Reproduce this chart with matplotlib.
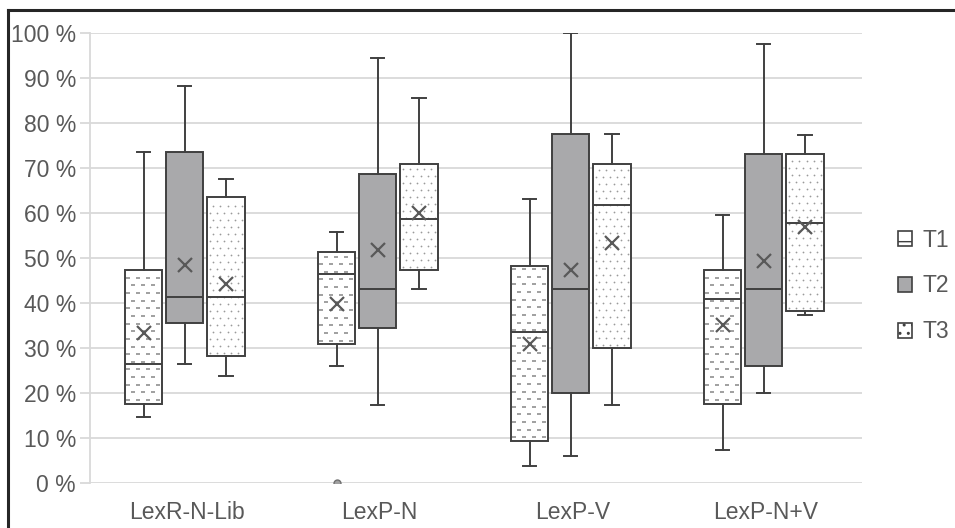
import numpy as np
import matplotlib
matplotlib.use("Agg")
import matplotlib.pyplot as plt
from matplotlib.lines import Line2D
from matplotlib.patches import Patch

categories = ["LexR-N-Lib", "LexP-N", "LexP-V", "LexP-N+V"]
series = ["T1", "T2", "T3"]

# five-number summaries + mean, one list per series (values in %)
t1_whislo = [14.7, 26.0, 3.7, 7.3]
t1_q1 = [17.6, 30.8, 9.3, 17.6]
t1_med = [26.4, 46.4, 33.4, 40.8]
t1_q3 = [47.3, 51.2, 48.2, 47.3]
t1_whishi = [73.4, 55.6, 63.0, 59.5]
t1_mean = [33.3, 39.7, 30.8, 35.0]
t1_fliers = [[], [0.0], [], []]

t2_whislo = [26.4, 17.3, 5.9, 20.0]
t2_q1 = [35.6, 34.3, 19.9, 26.0]
t2_med = [41.2, 43.0, 43.0, 43.0]
t2_q3 = [73.4, 68.6, 77.4, 73.0]
t2_whishi = [88.2, 94.3, 100.0, 97.4]
t2_mean = [48.4, 51.6, 47.3, 49.3]

t3_whislo = [23.8, 43.0, 17.3, 37.3]
t3_q1 = [28.2, 47.3, 30.0, 38.2]
t3_med = [41.2, 58.5, 61.7, 57.8]
t3_q3 = [63.4, 70.8, 70.8, 73.0]
t3_whishi = [67.6, 85.6, 77.4, 77.3]
t3_mean = [44.1, 59.9, 53.2, 56.8]

EDGE = "#404040"
GRID = "#d9d9d9"
TEXT = "#595959"
PAT = "#8c8c8c"
FILLS = ["white", "#a9a9ab", "white"]

plt.rcParams["font.family"] = ["Liberation Sans", "DejaVu Sans"]
plt.rcParams["font.size"] = 16.5


def make_stats(whislo, q1, med, q3, whishi, mean, fliers=None):
    out = []
    for i in range(len(med)):
        out.append({
            "whislo": whislo[i], "q1": q1[i], "med": med[i], "q3": q3[i],
            "whishi": whishi[i], "mean": mean[i],
            "fliers": fliers[i] if fliers else [],
        })
    return out


def pattern_fill(ax, x0, x1, y0, y1, marker, dx, dy, size, lw, color):
    mx, my = dx * 0.35, dy * 0.45
    pts = []
    ys = np.arange(y0 + my, y1 - my * 0.6, dy)
    for r, y in enumerate(ys):
        start = x0 + mx + (dx / 2 if r % 2 else 0)
        for x in np.arange(start, x1 - mx * 0.6, dx):
            pts.append((x, y))
    if pts:
        pts = np.array(pts)
        ax.scatter(pts[:, 0], pts[:, 1], marker=marker, s=size, c=color,
                   linewidths=lw, zorder=2.5)


fig = plt.figure(figsize=(9.55, 5.28), dpi=100)
ax = fig.add_axes([90 / 955, 45.3 / 528, 772 / 955, 450 / 528])

stats = [
    make_stats(t1_whislo, t1_q1, t1_med, t1_q3, t1_whishi, t1_mean, t1_fliers),
    make_stats(t2_whislo, t2_q1, t2_med, t2_q3, t2_whishi, t2_mean),
    make_stats(t3_whislo, t3_q1, t3_med, t3_q3, t3_whishi, t3_mean),
]
offsets = [-0.222, -0.01, 0.205]
width = 0.195
base = np.arange(1, len(categories) + 1)

for k, st in enumerate(stats):
    pos = base + offsets[k]
    art = ax.bxp(
        st, positions=pos, widths=width, patch_artist=True, showmeans=True,
        capwidths=0.07, manage_ticks=False,
        boxprops=dict(facecolor=FILLS[k], edgecolor=EDGE, linewidth=1.4),
        whiskerprops=dict(color=EDGE, linewidth=1.4),
        capprops=dict(color=EDGE, linewidth=1.4),
        medianprops=dict(color=EDGE, linewidth=1.4),
        meanprops=dict(marker="x", markeredgecolor="#595959", markersize=10,
                       markeredgewidth=1.6),
        flierprops=dict(marker="o", markersize=5, markerfacecolor="#a0a0a0",
                        markeredgecolor="#707070"),
    )
    for m in art["means"]:
        m.set_zorder(4)
    for m in art["medians"]:
        m.set_zorder(3.5)
    for j, p in enumerate(pos):
        x0, x1 = p - width / 2, p + width / 2
        if k == 0:
            pattern_fill(ax, x0, x1, st[j]["q1"], st[j]["q3"], "_",
                         0.052, 1.7, 11, 1.3, "#999999")
        elif k == 2:
            pattern_fill(ax, x0, x1, st[j]["q1"], st[j]["q3"], "o",
                         0.037, 1.55, 1.6, 0, "#9a9a9a")

ax.set_xlim(0.5, len(categories) + 0.5)
ax.set_ylim(0, 100)
ax.set_yticks(np.arange(0, 101, 10))
ax.set_yticklabels([f"{v} %" for v in range(0, 101, 10)])
ax.set_xticks(base)
ax.set_xticklabels(categories)
ax.yaxis.grid(True, color=GRID, linewidth=1.3)
ax.set_axisbelow(True)
for s in ["top", "right", "bottom"]:
    ax.spines[s].set_visible(False)
ax.spines["left"].set_color(GRID)
ax.spines["left"].set_linewidth(1.3)
ax.tick_params(axis="y", colors=GRID, labelcolor=TEXT, length=7, width=1.3, pad=3)
ax.tick_params(axis="x", length=0, labelcolor=TEXT, pad=13)

handles = [
    Patch(facecolor="white", edgecolor=EDGE, hatch="-", linewidth=1.2),
    Patch(facecolor=FILLS[1], edgecolor=EDGE, linewidth=1.2),
    Patch(facecolor="white", edgecolor=EDGE, hatch="..", linewidth=1.2),
]
leg = fig.legend(handles, series, loc="center left",
                 bbox_to_anchor=(898 / 955, 1 - 286 / 528), frameon=False,
                 handlelength=0.62, handleheight=0.62, handletextpad=0.45,
                 labelspacing=1.0, borderpad=0, borderaxespad=0)
for t in leg.get_texts():
    t.set_color(TEXT)

# dark frame around the picture (top and left edges visible)
fig.add_artist(Line2D([8 / 955, 1.0], [1 - 10 / 528] * 2, color="#262626",
                      linewidth=2.2, transform=fig.transFigure))
fig.add_artist(Line2D([8 / 955] * 2, [0.0, 1 - 10 / 528], color="#262626",
                      linewidth=2.2, transform=fig.transFigure))

fig.savefig("out.png", dpi=100)
